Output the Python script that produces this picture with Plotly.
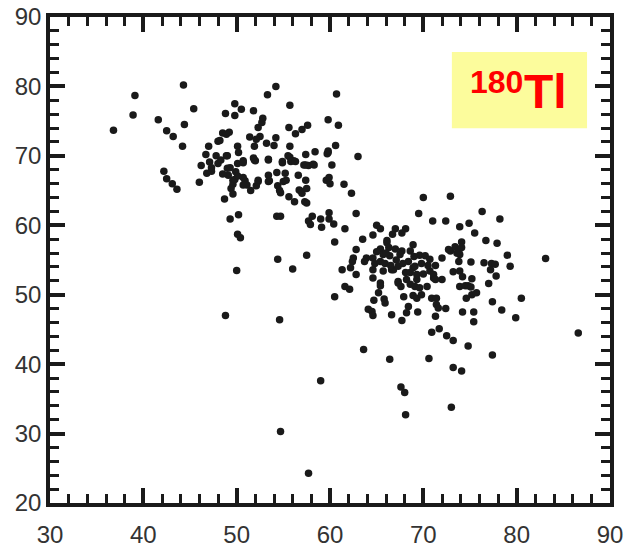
import plotly.graph_objects as go

# Scatter data (x, y)
x_values = [
    # upper-left group
    36.8, 38.9, 39.1, 41.6, 42.5, 43.2, 44.2, 44.4, 44.3, 45.4, 42.2, 42.5, 43.1, 43.6,
    46.0, 46.2, 46.7, 47.0, 46.8, 47.1, 47.3, 47.3, 47.8, 48.0, 48.0, 48.5, 48.9, 48.8,
    49.2, 48.7, 48.9, 49.0, 49.1, 48.5, 49.3, 49.6, 49.6, 49.4, 49.6, 49.8, 49.8, 49.9,
    50.1, 50.2, 50.1, 50.4, 50.1, 50.2, 50.5, 50.7, 50.9, 51.1, 50.7, 51.8, 51.9, 51.4,
    51.5, 51.8, 52.0, 52.1, 52.3, 52.3, 52.5, 52.1, 52.7, 52.8, 53.2, 53.3, 53.4, 53.4,
    53.4, 54.2, 54.2, 54.0, 54.3, 54.4, 54.6, 54.7, 54.3, 54.7, 54.4, 54.9, 55.0, 55.2,
    55.3, 55.6, 55.7, 55.7, 55.7, 56.1, 55.6, 56.0, 56.2, 56.3, 56.6, 56.7, 56.9, 57.0,
    57.0, 57.2, 57.4, 57.6, 57.5, 57.3, 57.5, 57.7, 57.4, 57.5, 57.7, 57.9, 58.1, 58.2,
    58.4, 59.0, 59.1, 59.9, 59.9, 60.4, 61.6, 62.8, 60.5, 62.8, 60.7, 59.8, 60.9, 60.6,
    59.8, 59.7, 60.2, 63.0, 59.6, 60.0, 59.9, 61.5, 62.3, 53.5, 52.3, 50.7, 49.8, 50.1,
    49.0, 48.3, 49.3, 50.7, 51.9, 53.4, 54.9, 55.5, 55.8, 56.3, 57.4, 48.2, 58.3, 59.8,
    # lower-right group
    70.0, 72.9, 69.5, 71.0, 72.4, 76.3, 78.2, 73.9, 74.9, 75.5, 76.7, 77.9, 74.1, 72.9,
    73.4, 73.8, 74.1, 73.9, 73.6, 79.0, 79.3, 83.1, 75.1, 76.5, 77.3, 77.7, 77.2, 77.8,
    77.0, 73.2, 73.9, 74.2, 75.2, 73.9, 74.5, 74.8, 75.1, 75.2, 75.7, 74.6, 77.4, 80.5,
    78.4, 79.9, 74.2, 75.4, 75.4, 86.6, 74.8, 77.4, 73.2, 74.1, 73.0, 73.2, 72.5, 71.7,
    70.9, 70.6, 66.4, 63.6, 59.0, 67.6, 68.0, 68.1, 54.7, 57.7, 48.8, 50.0, 54.6,
    65.0, 65.4, 64.6, 63.5, 67.0, 66.7, 68.1, 67.7, 66.1, 68.9, 62.5, 62.4, 61.3, 62.2,
    62.8, 63.9, 63.7, 64.6, 64.8, 64.6, 65.4, 65.7, 65.4, 66.1, 66.3, 66.4, 65.9, 66.6,
    65.7, 67.7, 67.5, 68.6, 68.4, 68.9, 68.6, 69.3, 68.2, 69.6, 70.2, 70.7, 71.3, 70.7,
    71.1, 72.0, 72.7, 73.8, 67.1, 66.8, 64.6, 67.3, 65.4, 70.5, 69.1, 67.3, 68.1, 69.3,
    72.0, 71.1, 71.3, 61.6, 62.1, 60.5, 65.2, 65.4, 65.8, 65.9, 64.7, 64.1, 64.5, 64.6,
    66.6, 67.7, 68.4, 68.2, 69.4, 67.9, 68.9, 69.3, 69.8, 70.9, 71.4, 71.4, 71.6, 71.3,
    72.4, 68.6, 69.1, 69.6, 70.4, 67.6, 67.3, 66.0, 67.0, 69.0, 66.5, 67.8, 70.0, 69.8,
    65.0,
]
y_values = [
    73.7, 75.9, 78.7, 75.2, 73.6, 72.8, 71.4, 74.5, 80.2, 76.8, 67.8, 66.7, 66.0, 65.2,
    66.2, 68.6, 70.2, 71.4, 67.5, 69.1, 67.8, 68.3, 70.0, 68.9, 72.1, 73.3, 73.1, 76.1,
    73.4, 63.8, 70.0, 68.2, 67.2, 67.4, 60.9, 66.5, 65.9, 65.3, 64.5, 77.5, 75.8, 67.7,
    68.9, 61.5, 58.7, 58.2, 71.4, 70.5, 76.7, 69.3, 66.4, 65.8, 66.9, 76.5, 71.4, 72.7,
    65.0, 69.7, 69.3, 65.7, 66.3, 74.1, 72.8, 72.4, 74.8, 75.4, 71.8, 78.8, 69.5, 66.3,
    67.2, 80.0, 72.6, 71.5, 67.6, 65.7, 65.0, 64.7, 61.3, 61.3, 55.1, 69.0, 66.3, 67.5,
    66.5, 74.1, 77.3, 71.4, 69.8, 69.3, 64.1, 53.7, 63.4, 73.2, 67.2, 65.1, 64.9, 73.8,
    64.6, 68.7, 70.2, 74.4, 63.2, 63.4, 65.3, 68.6, 66.5, 55.7, 60.6, 60.1, 61.3, 68.8,
    70.6, 60.9, 59.7, 61.8, 60.9, 60.2, 59.5, 61.7, 57.6, 56.5, 78.9, 75.2, 74.4, 71.5,
    70.5, 70.3, 68.7, 69.9, 66.5, 66.0, 66.9, 65.9, 64.6, 66.4, 66.5, 65.8, 66.6, 67.1,
    70.0, 69.4, 68.3, 69.0, 69.4, 69.4, 69.2, 70.0, 69.2, 69.2, 68.7, 72.2, 68.7, 70.7,
    64.0, 64.2, 61.7, 60.6, 60.6, 62.0, 60.9, 59.8, 60.3, 58.9, 57.8, 57.4, 57.6, 56.3,
    56.9, 56.3, 56.8, 55.8, 56.0, 55.7, 54.1, 55.2, 54.7, 54.6, 54.5, 54.4, 53.6, 52.7,
    51.6, 53.3, 53.4, 52.6, 52.3, 51.2, 51.3, 51.3, 51.1, 50.0, 50.3, 49.5, 49.0, 49.5,
    47.8, 46.7, 47.5, 47.5, 46.1, 44.5, 42.6, 41.3, 39.5, 39.0, 33.8, 43.4, 44.1, 45.1,
    44.6, 40.8, 40.7, 42.1, 37.6, 36.7, 35.9, 32.7, 30.3, 24.3, 47.0, 53.5, 46.4,
    60.0, 59.5, 58.6, 58.0, 59.5, 58.7, 59.5, 58.9, 57.8, 57.2, 55.3, 54.8, 53.6, 53.9,
    52.9, 55.3, 54.8, 55.3, 54.5, 53.6, 56.6, 55.8, 54.8, 57.5, 56.8, 55.6, 54.5, 53.6,
    53.4, 56.3, 55.8, 56.3, 54.8, 53.9, 53.2, 52.2, 52.2, 55.7, 55.6, 55.1, 54.2, 53.4,
    52.4, 55.3, 56.5, 54.8, 55.0, 53.6, 52.4, 51.9, 51.7, 54.2, 54.1, 54.1, 53.2, 52.9,
    52.2, 52.9, 52.2, 51.2, 50.8, 49.7, 50.3, 51.3, 49.4, 48.8, 49.2, 47.9, 47.6, 47.0,
    47.1, 46.3, 48.3, 47.4, 47.5, 49.7, 49.9, 49.5, 50.0, 49.5, 49.5, 48.6, 48.1, 46.9,
    48.0, 51.5, 51.2, 51.0, 51.2, 51.2, 51.7, 56.0, 56.6, 55.5, 54.2, 54.5, 53.0, 54.5,
    56.2,
]

x_ticks = [30, 40, 50, 60, 70, 80, 90]
y_ticks = [20, 30, 40, 50, 60, 70, 80, 90]
label_mass = "180"
label_element = "Tl"

fig = go.Figure()
fig.add_trace(go.Scatter(
    x=x_values, y=y_values, mode="markers",
    marker=dict(size=7.5, color="#1a1a1a", line=dict(width=0)),
    showlegend=False, hoverinfo="x+y",
))

axis_common = dict(
    showgrid=False, zeroline=False, showline=True, linewidth=3.5, linecolor="#1a1a1a",
    mirror="allticks", ticks="inside", ticklen=15, tickwidth=4, tickcolor="#1a1a1a",
    tickfont=dict(family="Liberation Sans, Arial, sans-serif", size=24, color="#333333"),
    minor=dict(ticks="inside", ticklen=9, tickwidth=3, tickcolor="#1a1a1a", dtick=2, showgrid=False),
    automargin=False,
)

fig.update_xaxes(range=[30, 90], tickvals=x_ticks, ticktext=[str(v) for v in x_ticks],
                 ticklabelstandoff=7, **axis_common)
fig.update_yaxes(range=[20, 90], tickvals=y_ticks, ticktext=[str(v) for v in y_ticks],
                 ticklabelstandoff=0, **axis_common)

fig.add_shape(type="rect", xref="paper", yref="paper", x0=0.7176, x1=0.959, y0=0.771, y1=0.928,
              fillcolor="#FCFC9C", line=dict(width=0), layer="below")
fig.add_annotation(xref="paper", yref="paper", x=0.7975, y=0.866, text=label_mass, showarrow=False,
                   xanchor="center", yanchor="middle",
                   font=dict(family="Liberation Sans, Arial, sans-serif", size=32, color="#FF0000", weight="bold"))
fig.add_annotation(xref="paper", yref="paper", x=0.8853, y=0.8464, text=label_element, showarrow=False,
                   xanchor="center", yanchor="middle",
                   font=dict(family="Liberation Sans, Arial, sans-serif", size=48, color="#FF0000", weight="bold"))

fig.update_layout(
    width=629, height=549,
    margin=dict(l=50, r=19, t=17, b=46),
    paper_bgcolor="white", plot_bgcolor="white",
)

# remove the browser's default 8px body margin so the figure fills the window exactly
fig.write_html("out.html", config={"displayModeBar": False},
               post_script="document.body.style.margin='0';")
